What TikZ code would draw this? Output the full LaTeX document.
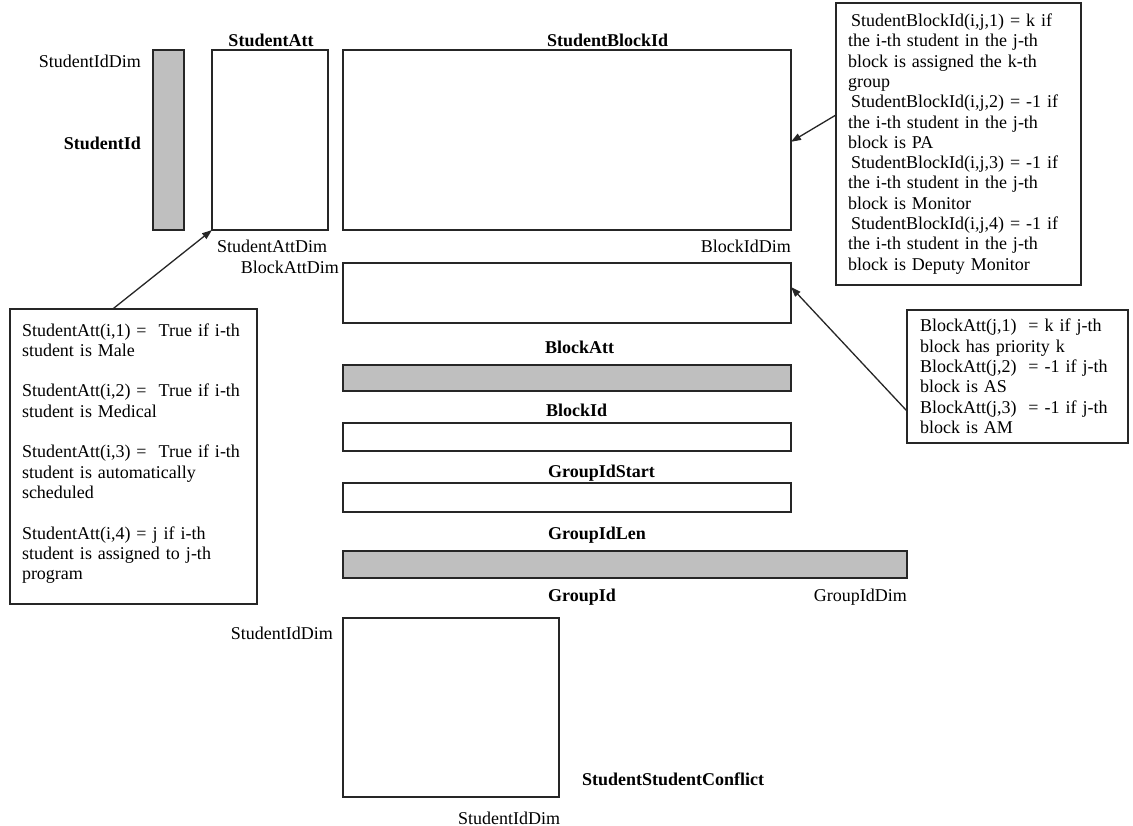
\documentclass[tikz,border=0pt]{standalone}
\usepackage{fontspec}
\setmainfont{Liberation Serif}
\usetikzlibrary{arrows.meta,calc}
\begin{document}
\begin{tikzpicture}[x=1pt,y=-1pt,
  rectbox/.style={draw=black!85, line width=1.5pt, inner sep=0pt, outer sep=0pt, anchor=north west},
  grayfill/.style={fill=black!25},
  lbl/.style={inner sep=0pt, font=\fontsize{18}{20}\selectfont},
  blbl/.style={inner sep=0pt, font=\fontsize{18}{20}\selectfont\bfseries},
  note/.style={draw=black!85, line width=1.5pt, anchor=north west, inner xsep=12pt, inner ysep=0pt, outer sep=0pt, align=left, font=\fontsize{18}{20.3}\selectfont},
  conn/.style={line width=1.3pt, draw=black!85, -{Triangle[length=10pt,width=7pt]}}
]
\useasboundingbox[fill=white] (0,0) rectangle (1133,826);

% rectangles
\node[rectbox, grayfill, minimum width=31pt, minimum height=180pt] (sidr) at (153,50) {};
\node[rectbox, minimum width=116pt, minimum height=180pt] (sattr) at (212,50) {};
\node[rectbox, minimum width=448pt, minimum height=180pt] (sbidr) at (343,50) {};
\node[rectbox, minimum width=448pt, minimum height=60pt] (battr) at (343,263) {};
\node[rectbox, grayfill, minimum width=448pt, minimum height=26pt] (bagr) at (343,365) {};
\node[rectbox, minimum width=448pt, minimum height=28pt] (bidr) at (343,423) {};
\node[rectbox, minimum width=448pt, minimum height=29pt] (gisr) at (343,483) {};
\node[rectbox, grayfill, minimum width=564pt, minimum height=27pt] (gilr) at (343,551) {};
\node[rectbox, minimum width=216pt, minimum height=179pt] (sscr) at (343,618) {};

% labels
\node[lbl, anchor=base east] (l1) at (141,68) {StudentIdDim};
\node[blbl, anchor=base east] (l2) at (141,150) {StudentId};
\node[blbl, anchor=base] (l3) at (271,47) {StudentAtt};
\node[blbl, anchor=base west] (l4) at (547,47) {StudentBlockId};
\node[lbl, anchor=base] (l5) at (272,253) {StudentAttDim};
\node[lbl, anchor=base east] (l6) at (339,274) {BlockAttDim};
\node[lbl, anchor=base east] (l7) at (791,253) {BlockIdDim};
\node[blbl, anchor=base west] (l8) at (545,354) {BlockAtt};
\node[blbl, anchor=base west] (l9) at (546,416) {BlockId};
\node[blbl, anchor=base west] (l10) at (548,477) {GroupIdStart};
\node[blbl, anchor=base west] (l11) at (548,539) {GroupIdLen};
\node[blbl, anchor=base west] (l12) at (548,601) {GroupId};
\node[lbl, anchor=base east] (l13) at (907,601) {GroupIdDim};
\node[lbl, anchor=base east] (l14) at (333,639) {StudentIdDim};
\node[blbl, anchor=base west] (l15) at (582,785) {StudentStudentConflict};
\node[lbl, anchor=base west] (l16) at (458,824) {StudentIdDim};

% notes
\node[note, minimum width=247pt, minimum height=295pt, text width=223pt] (nl) at (10,309) {%
StudentAtt(i,1) =\ \ True if i-th\\
student is Male\\[20.3pt]
StudentAtt(i,2) =\ \ True if i-th\\
student is Medical\\[20.3pt]
StudentAtt(i,3) =\ \ True if i-th\\
student is automatically\\
scheduled\\[20.3pt]
StudentAtt(i,4) = j if i-th\\
student is assigned to j-th\\
program\vspace*{6pt}};

\node[note, minimum width=245pt, minimum height=282pt, text width=221pt] (ntr) at (836,3) {%
\hspace*{3pt}StudentBlockId(i,j,1) = k if\\
the i-th student in the j-th\\
block is assigned the k-th\\
group\\
\hspace*{3pt}StudentBlockId(i,j,2) = -1 if\\
the i-th student in the j-th\\
block is PA\\
\hspace*{3pt}StudentBlockId(i,j,3) = -1 if\\
the i-th student in the j-th\\
block is Monitor\\
\hspace*{3pt}StudentBlockId(i,j,4) = -1 if\\
the i-th student in the j-th\\
block is Deputy Monitor};

\node[note, minimum width=221pt, minimum height=133pt, inner xsep=13pt, text width=195pt] (nbr) at (907,310) {%
BlockAtt(j,1)\ \ = k if j-th\\
block has priority k\\
BlockAtt(j,2)\ \ = -1 if j-th\\
block is AS\\
BlockAtt(j,3)\ \ = -1 if j-th\\
block is AM};

% connectors
\draw[conn] ($(nl.north west)!0.416!(nl.north east)$) -- (sattr.south west);
\draw[conn] ($(ntr.north west)!0.397!(ntr.south west)$) -- ($(sbidr.north east)!0.51!(sbidr.south east)$);
\draw[conn] ($(nbr.north west)!0.76!(nbr.south west)$) -- ($(battr.north east)!0.4!(battr.south east)$);
\end{tikzpicture}
\end{document}
